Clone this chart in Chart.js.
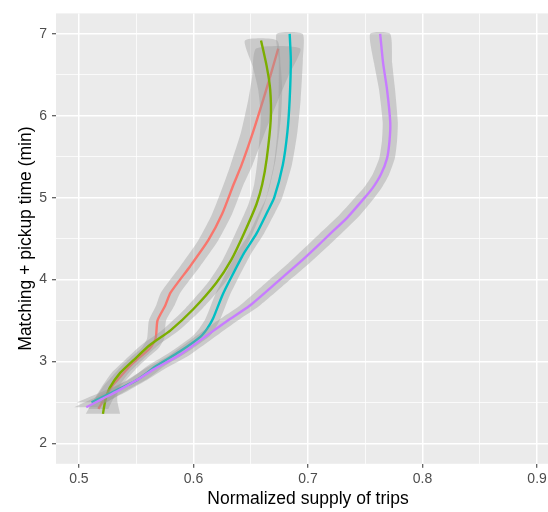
<!DOCTYPE html>
<html lang="en">
<head>
<meta charset="UTF-8">
<title>Matching + pickup time vs normalized supply of trips</title>
<script src="https://cdn.jsdelivr.net/npm/chart.js"></script>
<style>
  html, body { margin: 0; padding: 0; background: #fff; overflow: hidden; }
  #wrap { width: 562px; height: 512px; }
</style>
</head>
<body>
<div id="wrap"><canvas id="chart" width="562" height="512"></canvas></div>
<script>
// smoothed curves: supply (x) at each time (y), with half width of the grey band (x units)
const yRed = [2.42, 2.54, 2.70, 2.81, 2.92, 3.04, 3.16, 3.28, 3.50, 3.68, 3.84, 4.16, 4.48, 4.80, 5.16, 5.40, 5.80, 6.20, 6.48, 6.82];
const xRed = [0.517, 0.522, 0.529, 0.536, 0.543, 0.552, 0.562, 0.567, 0.5686, 0.5753, 0.580, 0.597, 0.613, 0.625, 0.635, 0.642, 0.652, 0.661, 0.667, 0.674];
const wRed = [0.0087, 0.0079, 0.0075, 0.0075, 0.0075, 0.0075, 0.0075, 0.0075, 0.0075, 0.008, 0.0085, 0.0087, 0.0087, 0.0087, 0.0087, 0.0096, 0.0105, 0.0131, 0.0157, 0.0192];

const yGreen = [2.36, 2.52, 2.68, 2.86, 3.02, 3.20, 3.38, 3.64, 3.96, 4.24, 4.56, 4.92, 5.16, 5.48, 5.96, 6.32, 6.60, 6.92];
const xGreen = [0.521, 0.523, 0.527, 0.536, 0.548, 0.562, 0.580, 0.600, 0.620, 0.633, 0.644, 0.655, 0.660, 0.664, 0.6675, 0.667, 0.664, 0.659];
const wGreen = [0.0150, 0.0105, 0.0075, 0.0075, 0.0075, 0.0075, 0.0075, 0.0075, 0.0075, 0.0075, 0.0075, 0.007, 0.007, 0.0079, 0.0087, 0.0105, 0.0122, 0.0140];

const yCyan = [2.50, 2.63, 2.76, 2.86, 2.94, 3.12, 3.30, 3.40, 3.52, 3.80, 4.00, 4.32, 4.56, 4.84, 5.00, 5.40, 5.80, 6.20, 6.68, 7.00];
const xCyan = [0.511, 0.530, 0.549, 0.5595, 0.567, 0.588, 0.606, 0.612, 0.617, 0.625, 0.632, 0.644, 0.655, 0.665, 0.6705, 0.678, 0.682, 0.684, 0.685, 0.684];
const wCyan = [0.0131, 0.0096, 0.0075, 0.0075, 0.0075, 0.0075, 0.0075, 0.007, 0.0065, 0.0065, 0.0065, 0.0065, 0.0065, 0.007, 0.007, 0.0079, 0.0087, 0.0096, 0.0105, 0.0113];

const yPurple = [2.44, 2.54, 2.64, 2.76, 2.90, 3.08, 3.32, 3.50, 3.68, 4.00, 4.20, 4.40, 4.56, 4.76, 5.00, 5.12, 5.28, 5.48, 5.70, 5.92, 6.32, 6.64, 7.00];
const xPurple = [0.5064, 0.520, 0.534, 0.549, 0.565, 0.588, 0.612, 0.630, 0.649, 0.6755, 0.692, 0.7075, 0.7195, 0.7345, 0.7495, 0.7565, 0.7635, 0.769, 0.7712, 0.7718, 0.769, 0.7656, 0.763];
const wPurple = [0.0105, 0.0087, 0.0087, 0.0087, 0.0087, 0.0087, 0.0087, 0.0087, 0.0087, 0.0090, 0.0092, 0.0094, 0.0094, 0.0092, 0.0085, 0.0078, 0.0072, 0.0068, 0.0066, 0.0066, 0.007, 0.0079, 0.0087];

const xTicks = [0.5, 0.55, 0.6, 0.65, 0.7, 0.75, 0.8, 0.85, 0.9];
const yTicks = [2, 2.5, 3, 3.5, 4, 4.5, 5, 5.5, 6, 6.5, 7];

const FONT = "'Liberation Sans', Arial, sans-serif";
const BAND = 'rgba(153,153,153,0.4)';

function curve(xs, ys) {
  return xs.map((x, i) => ({ x: x, y: ys[i] }));
}
// ribbon outline: left edge going up, right edge coming back down
function band(xs, ys, ws) {
  const lo = xs.map((x, i) => ({ x: x - ws[i], y: ys[i] }));
  const hi = xs.map((x, i) => ({ x: x + ws[i], y: ys[i] })).reverse();
  return lo.concat(hi);
}
function isMajor(v, step) {
  const k = v / step;
  return Math.abs(k - Math.round(k)) < 1e-6;
}

function bandSet(xs, ys, ws, order) {
  return { data: band(xs, ys, ws), showLine: true, fill: 'shape', backgroundColor: BAND,
           borderWidth: 0, borderColor: 'rgba(0,0,0,0)', pointRadius: 0, tension: 0.2, order: order };
}
function lineSet(xs, ys, color, order) {
  return { data: curve(xs, ys), showLine: true, fill: false, borderColor: color,
           borderWidth: 2.4, pointRadius: 0, tension: 0.2, order: order };
}

const panelBg = {
  id: 'panelBg',
  beforeDraw(chart) {
    const { ctx, chartArea: a } = chart;
    ctx.save();
    ctx.fillStyle = '#EBEBEB';
    ctx.fillRect(a.left, a.top, a.right - a.left, a.bottom - a.top);
    ctx.restore();
  }
};

new Chart(document.getElementById('chart'), {
  type: 'scatter',
  data: {
    datasets: [
      bandSet(xRed, yRed, wRed, 8),
      lineSet(xRed, yRed, '#F8766D', 7),
      bandSet(xGreen, yGreen, wGreen, 6),
      lineSet(xGreen, yGreen, '#7CAE00', 5),
      bandSet(xCyan, yCyan, wCyan, 4),
      lineSet(xCyan, yCyan, '#00BFC4', 3),
      bandSet(xPurple, yPurple, wPurple, 2),
      lineSet(xPurple, yPurple, '#C77CFF', 1)
    ]
  },
  options: {
    responsive: false,
    animation: false,
    layout: { padding: { top: 5.9, right: 2, bottom: 0, left: 0 } },
    plugins: { legend: { display: false }, tooltip: { enabled: false } },
    scales: {
      x: {
        type: 'linear', min: 0.48, max: 0.92,
        afterBuildTicks: s => { s.ticks = xTicks.map(v => ({ value: v })); },
        afterFit: s => { s.height = 48.2; },
        border: { display: false },
        grid: {
          color: '#FFFFFF',
          lineWidth: c => isMajor(c.tick.value, 0.1) ? 1.5 : 0.75,
          tickColor: c => isMajor(c.tick.value, 0.1) ? '#333333' : 'rgba(0,0,0,0)',
          tickLength: 4, tickWidth: 1
        },
        ticks: {
          autoSkip: false, maxRotation: 0, padding: 3, color: '#4D4D4D',
          font: { family: FONT, size: 14 },
          callback: v => isMajor(v, 0.1) ? v.toFixed(1) : ''
        },
        title: { display: true, text: 'Normalized supply of trips', color: '#000000',
                 font: { family: FONT, size: 17.5 }, padding: { top: 0, bottom: 2.5 } }
      },
      y: {
        type: 'linear', min: 1.75, max: 7.25,
        afterBuildTicks: s => { s.ticks = yTicks.map(v => ({ value: v })); },
        afterFit: s => { s.width = 56; },
        border: { display: false },
        grid: {
          color: '#FFFFFF',
          lineWidth: c => isMajor(c.tick.value, 1) ? 1.5 : 0.75,
          tickColor: c => isMajor(c.tick.value, 1) ? '#333333' : 'rgba(0,0,0,0)',
          tickLength: 4, tickWidth: 1
        },
        ticks: {
          autoSkip: false, padding: 5, color: '#4D4D4D',
          font: { family: FONT, size: 14 },
          callback: v => isMajor(v, 1) ? String(v) : ''
        },
        title: { display: true, text: 'Matching + pickup time (min)', color: '#000000',
                 font: { family: FONT, size: 17.5 }, padding: { top: 16, bottom: 0 } }
      }
    }
  },
  plugins: [panelBg]
});
</script>
</body>
</html>
